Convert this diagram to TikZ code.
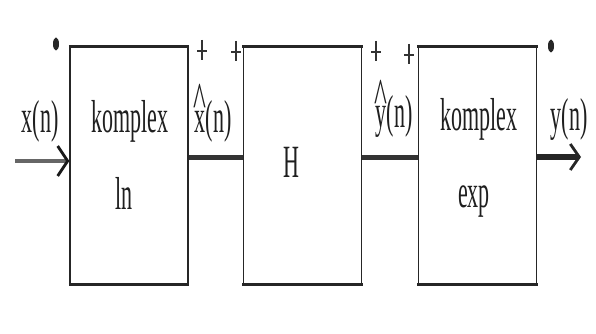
\documentclass[tikz,border=0pt]{standalone}
\usepackage{fontspec}
\setmainfont{Liberation Serif}
\usetikzlibrary{arrows.meta,shapes.geometric}
\newcommand\st[1]{\scalebox{1}[2.1]{#1}}
\newcommand\hatted[1]{\ooalign{#1\cr\hidewidth\raisebox{7pt}{\scalebox{1.25}[1.1]{\textasciicircum}}\hidewidth\cr}}
\begin{document}
\begin{tikzpicture}[x=1pt,y=-1pt,
  blk/.style={draw=black!85, line width=1.3pt, minimum width=118pt, minimum height=237pt, inner sep=0pt},
  edge/.style={draw=black!85, line width=3pt},
  sig/.style={draw=black!80, line width=5pt},
  lbl/.style={anchor=base, inner sep=0pt, font=\fontsize{22}{26}\selectfont, text=black!88},
  plus/.style={minimum width=10pt, minimum height=20pt, inner sep=0pt,
    path picture={\draw[black!80, line width=1.4pt]
      (path picture bounding box.north) -- (path picture bounding box.south)
      ([yshift=-1pt]path picture bounding box.west) -- ([yshift=-1pt]path picture bounding box.east);}},
  dotnode/.style={ellipse, fill=black!85, minimum width=6pt, minimum height=13pt, inner sep=0pt}]
\useasboundingbox[fill=white] (0,0) rectangle (596,334);
\coordinate (s) at (0,157);
\coordinate (in) at (15,161);
\coordinate (out) at (581,157);
% blocks
\node[blk] (b1) at (129,165.5) {};
\node[blk] (b2) at (302.5,165.5) {};
\node[blk] (b3) at (477.5,165.5) {};
\foreach \b in {b1,b2,b3}{
  \draw[edge] ([xshift=-0.6pt]\b.north west) -- ([xshift=0.6pt]\b.north east);
  \draw[edge] ([xshift=-0.6pt]\b.south west) -- ([xshift=0.6pt]\b.south east);
}
% connectors
\draw[draw=black!60, line width=3.5pt, -{Straight Barb[length=10pt,width=30pt,line width=2.8pt,color=black!90]}] (in) -- (b1.west |- in);
\draw[sig] (b1.east |- s) -- (b2.west |- s);
\draw[sig] (b2.east |- s) -- (b3.west |- s);
\draw[draw=black!85, line width=5.5pt, -{Straight Barb[length=9pt,width=26pt,line width=2.8pt]}] (b3.east |- s) -- (out);
% labels
\node[lbl] (xn) at (40,132) {\st{x(n)}};
\node[lbl] (k1) at (130,132) {\st{komplex}};
\node[lbl] (ln) at (124,209) {\st{ln}};
\node[lbl] (xh) at (213,132) {\st{\hatted{x}(n)}};
\node[lbl] (H) at (291,177) {\st{H}};
\node[lbl] (yh) at (394,128) {\st{\hatted{y}(n)}};
\node[lbl] (k2) at (479,130) {\st{komplex}};
\node[lbl] (ex) at (474,207) {\st{exp}};
\node[lbl] (yn) at (569,130) {\st{y(n)}};
% plus signs and dots
\node[plus] (p1) at (202,50) {};
\node[plus] (p2) at (236,51) {};
\node[plus] (p3) at (376,51) {};
\node[plus] (p4) at (409,54) {};
\node[dotnode] (d1) at (56,44) {};
\node[dotnode] (d2) at (551,46) {};
\end{tikzpicture}
\end{document}
